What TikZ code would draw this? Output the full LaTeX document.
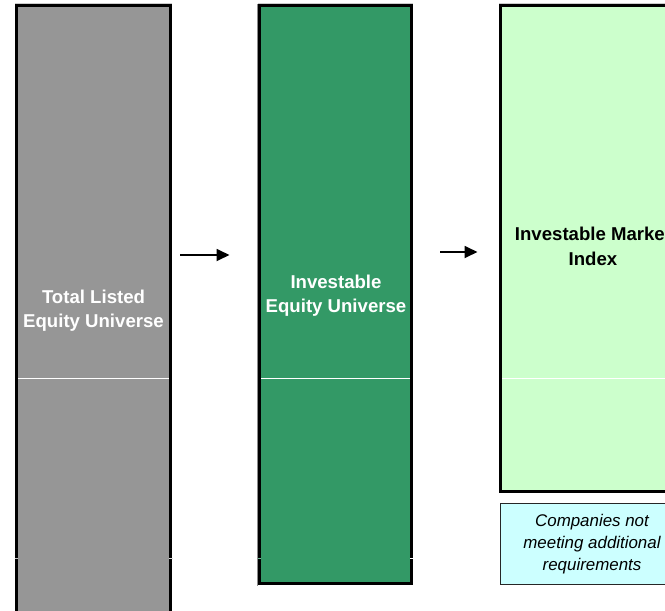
\documentclass[tikz,border=0pt]{standalone}
\usepackage{fontspec}
\setmainfont{Liberation Sans}
\usetikzlibrary{arrows.meta}
\definecolor{boxgray}{RGB}{150,150,150}
\definecolor{boxgreen}{RGB}{51,153,102}
\definecolor{boxlight}{RGB}{204,255,204}
\definecolor{boxcyan}{RGB}{204,255,255}
\tikzset{
  bigbox/.style={draw=black, line width=3pt},
  divline/.style={draw=white, line width=1pt},
  shadowline/.style={draw=black!20, line width=1pt},
  flowarrow/.style={line width=1.8pt, -{Triangle[length=13pt,width=12pt]}},
  boxlabel/.style={align=center, inner sep=0pt, font=\bfseries\fontsize{18.6}{24.5}\selectfont},
  notelabel/.style={align=center, inner sep=0pt, font=\itshape\fontsize{16.9}{22}\selectfont},
}
\begin{document}
\begin{tikzpicture}[x=1pt,y=-1pt]
\useasboundingbox (0,0) rectangle (665,611);
\begin{scope}
\clip (0,0) rectangle (665,611);
% top shadow lines
\draw[shadowline] (15,3.6) -- (172,3.6);
\draw[shadowline] (258,3.6) -- (413,3.6);
\draw[shadowline] (499,3.6) -- (690,3.6);
\draw[draw=black!45, line width=0.8pt] (257.2,4) -- (257.2,586);
% gray box
\path[fill=boxgray, bigbox] (16.5,5.5) -- (16.5,630) -- (170.5,630) -- (170.5,5.5) -- cycle;
\draw[divline] (18,378.7) -- (169,378.7);
\draw[draw=black!25, line width=0.8pt] (14.5,558.3) -- (18,558.3);
\draw[draw=black!15, line width=0.8pt] (169,558.3) -- (172.5,558.3);
% green box
\path[fill=boxgreen, bigbox] (259.5,5.5) rectangle (411.5,583.8);
\draw[divline] (261,378.7) -- (410,378.7);
\draw[draw=boxgreen!70, line width=0.8pt] (257.5,558.3) -- (261,558.3);
\draw[draw=white, line width=0.8pt] (410,558.3) -- (413.5,558.3);
% light green box
\path[fill=boxlight, bigbox] (500.5,5.5) rectangle (688,491.2);
\draw[divline] (502,378.7) -- (690,378.7);
% cyan note box
\path[fill=boxcyan, draw=black!85, line width=1pt] (500.5,503.5) rectangle (690,584);
\end{scope}
% labels
\node[boxlabel, text=white] (total) at (93.5,310.7) {Total Listed\\Equity Universe};
\node[boxlabel, text=white] (invest) at (336,295.7) {Investable\\Equity Universe};
\node[boxlabel, text=black] (index) at (593,246.5) {Investable Market\\Index};
\node[notelabel] (note) at (592,543.7) {Companies not\\meeting additional\\requirements};
% arrows
\coordinate (a1s) at (180,255);
\coordinate (a1e) at (229.5,255);
\coordinate (a2s) at (440,252);
\coordinate (a2e) at (477.5,252);
\draw[flowarrow] (a1s) -- (a1e);
\draw[flowarrow] (a2s) -- (a2e);
% re-clip text overflow at right edge
\fill[white] (665,0) rectangle (700,611);
\end{tikzpicture}
\end{document}
